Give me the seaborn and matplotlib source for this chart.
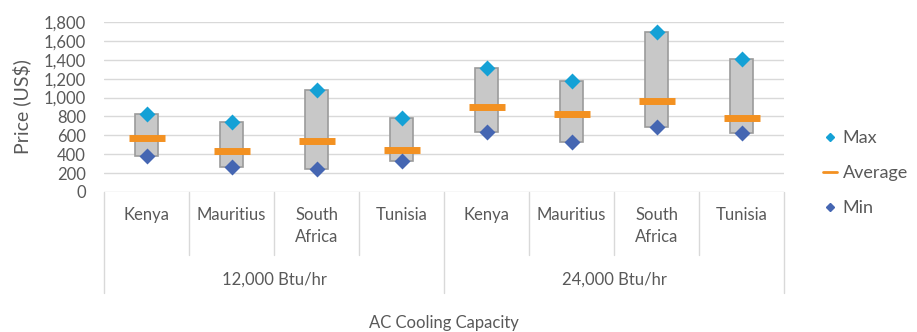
import pandas as pd
import seaborn as sns
import matplotlib.pyplot as plt
from matplotlib.lines import Line2D
from matplotlib.ticker import FuncFormatter

# values
capacities = ["12,000 Btu/hr"] * 4 + ["24,000 Btu/hr"] * 4
countries = ["Kenya", "Mauritius", "South\nAfrica", "Tunisia"] * 2
price_min = [380, 270, 240, 330, 640, 530, 690, 620]
price_avg = [575, 435, 540, 450, 900, 825, 965, 785]
price_max = [830, 740, 1080, 780, 1310, 1180, 1690, 1410]

df = pd.DataFrame({
    "capacity": capacities,
    "country": countries,
    "min": price_min,
    "avg": price_avg,
    "max": price_max,
})
df["key"] = df["capacity"] + " | " + df["country"]
df["span"] = df["max"] - df["min"]
order = list(df["key"])

GREY_TXT = "#595959"
GRID = "#D9D9D9"
C_MAX = "#14A1D6"
C_MIN = "#4566B2"
C_AVG = "#F39121"

sns.set_theme(style="white")
plt.rcParams["font.family"] = ["Lato", "DejaVu Sans"]
plt.rcParams["text.color"] = GREY_TXT

fig = plt.figure(figsize=(9.17, 3.32), dpi=100)
ax = fig.add_axes([104 / 917, 1 - 192 / 332, (784 - 104) / 917, 170 / 332])

# min-max box
sns.barplot(data=df, x="key", y="span", order=order, bottom=df["min"].values,
            color="#C8C8C8", edgecolor="#9B9B9B", linewidth=1.2, width=0.26,
            errorbar=None, saturation=1, ax=ax, zorder=3)

# average dash and min/max diamonds
sns.pointplot(data=df, x="key", y="avg", order=order, color=C_AVG, marker="_",
              markersize=26, markeredgewidth=5, linestyle="none", errorbar=None, ax=ax)
sns.pointplot(data=df, x="key", y="max", order=order, color=C_MAX, marker="D",
              markersize=6.6, linestyle="none", errorbar=None, ax=ax)
sns.pointplot(data=df, x="key", y="min", order=order, color=C_MIN, marker="D",
              markersize=6.6, linestyle="none", errorbar=None, ax=ax)
for coll in ax.lines:
    coll.set_zorder(4)

ax.set_ylim(0, 1800)
ax.set_xlim(-0.5, len(order) - 0.5)
ax.set_yticks(range(0, 1801, 200))
ax.yaxis.set_major_formatter(FuncFormatter(lambda v, p: f"{int(v):,}"))
ax.tick_params(axis="y", length=0, pad=13, labelsize=12, labelcolor=GREY_TXT)
ax.grid(axis="y", color=GRID, linewidth=1)
ax.set_axisbelow(True)
for s in ax.spines.values():
    s.set_visible(False)
ax.set_xticks([])
ax.set_xlabel("")
ax.set_ylabel("")

# multi-level category axis
xt = ax.get_xaxis_transform()
for i, c in enumerate(countries):
    ax.annotate(c, xy=(i, 0), xycoords=xt, xytext=(0, -11), textcoords="offset points",
                ha="center", va="top", fontsize=12, linespacing=1.45, color=GREY_TXT)
for i in range(len(order) + 1):
    low = -101 / 170 if i % 4 == 0 else -63 / 170
    ax.plot([i - 0.5, i - 0.5], [0, low], transform=xt, color=GRID, lw=1, clip_on=False)
for g, name in enumerate(["12,000 Btu/hr", "24,000 Btu/hr"]):
    ax.text(g * 4 + 1.5, -88 / 170, name, transform=xt, ha="center", va="center",
            fontsize=12, color=GREY_TXT)

fig.text((104 + 784) / 2 / 917, 1 - 323 / 332, "AC Cooling Capacity", ha="center",
         va="center", fontsize=12, color=GREY_TXT)
fig.text(22 / 917, 1 - 107 / 332, "Price (US$)", rotation=90, ha="center", va="center",
         fontsize=14, color=GREY_TXT)

handles = [
    Line2D([], [], marker="D", color=C_MAX, markersize=4.5, linestyle="none"),
    Line2D([], [], color=C_AVG, lw=2),
    Line2D([], [], marker="D", color=C_MIN, markersize=4.5, linestyle="none"),
]
fig.legend(handles, ["Max", "Average", "Min"], loc="center left",
           bbox_to_anchor=(823 / 917, 1 - 173 / 332), frameon=False, fontsize=13,
           handlelength=0.8, handletextpad=0.3, labelspacing=1.05, borderpad=0,
           borderaxespad=0, labelcolor=GREY_TXT)

fig.savefig("out.png", dpi=100)
